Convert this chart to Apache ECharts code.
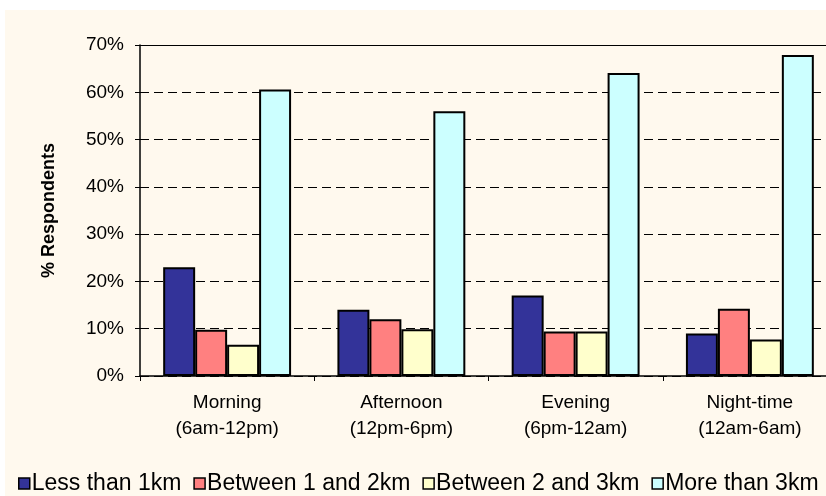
<!DOCTYPE html>
<html>
<head>
<meta charset="utf-8">
<script src="https://cdn.jsdelivr.net/npm/echarts@6/dist/echarts.min.js"></script>
<style>
  html, body { margin: 0; padding: 0; background: #ffffff; overflow: hidden; width: 826px; height: 496px; }
  #chart { position: absolute; left: 5px; top: 10px; width: 845px; height: 486px; }
</style>
</head>
<body>
<div id="chart"></div>
<script>
// Time-of-day periods on the category axis
const categories = ['Morning\n(6am-12pm)', 'Afternoon\n(12pm-6pm)', 'Evening\n(6pm-12am)', 'Night-time\n(12am-6am)'];

// Share of respondents (%) by distance band
const lessThan1km   = [23.0, 14.0, 17.0, 9.0];
const between1and2  = [9.8, 12.0, 9.4, 14.2];
const between2and3  = [6.6, 9.9, 9.4, 7.7];
const moreThan3km   = [60.6, 56.0, 64.1, 67.9];

const seriesNames = ['Less than 1km', 'Between 1 and 2km', 'Between 2 and 3km', 'More than 3km'];
const seriesValues = [lessThan1km, between1and2, between2and3, moreThan3km];
const seriesColors = ['#333399', '#FF8080', '#FFFFCC', '#CCFFFF'];

const FONT = 'Liberation Sans, Arial, sans-serif';

const chart = echarts.init(document.getElementById('chart'), null, { renderer: 'canvas' });

chart.setOption({
  backgroundColor: '#FFF9EE',
  animation: false,
  grid: { left: 135, top: 35, right: 13, bottom: 120, containLabel: false },
  legend: {
    data: seriesNames,
    left: 8,
    top: 457,
    icon: 'rect',
    itemWidth: 11,
    itemHeight: 11,
    itemGap: 12,
    itemStyle: { borderColor: '#000', borderWidth: 1.5 },
    textStyle: { fontFamily: FONT, fontSize: 23, color: '#000', padding: [0, 0, 0, -3] }
  },
  xAxis: [{
    type: 'category',
    data: categories,
    axisLine: { show: true, lineStyle: { color: '#000', width: 1.5 } },
    axisTick: { show: true, inside: false, length: 5, alignWithLabel: false, lineStyle: { color: '#000' } },
    axisLabel: { fontFamily: FONT, fontSize: 19, color: '#000', lineHeight: 26, margin: 14 }
  }, {
    type: 'category',
    position: 'top',
    data: categories,
    axisLine: { show: true, lineStyle: { color: '#000', width: 1.2 } },
    axisTick: { show: false },
    axisLabel: { show: false }
  }],
  yAxis: {
    type: 'value',
    min: 0,
    max: 70,
    interval: 10,
    name: '% Respondents',
    nameLocation: 'middle',
    nameGap: 82,
    nameRotate: 90,
    nameTextStyle: { fontFamily: FONT, fontSize: 18, fontWeight: 'bold', color: '#000' },
    axisLine: { show: true, lineStyle: { color: '#000', width: 1.5 } },
    axisTick: { show: true, inside: false, length: 5, lineStyle: { color: '#000' } },
    axisLabel: { fontFamily: FONT, fontSize: 19, color: '#000', margin: 16, formatter: '{value}%' },
    splitLine: { show: true, lineStyle: { color: '#000', width: 1, type: [9, 5] } }
  },
  series: seriesNames.map((name, i) => ({
    name: name,
    type: 'bar',
    data: seriesValues[i],
    barGap: '0%',
    barCategoryGap: '26.6%',
    itemStyle: { color: seriesColors[i], borderColor: '#000', borderWidth: 2 }
  }))
});
</script>
</body>
</html>
